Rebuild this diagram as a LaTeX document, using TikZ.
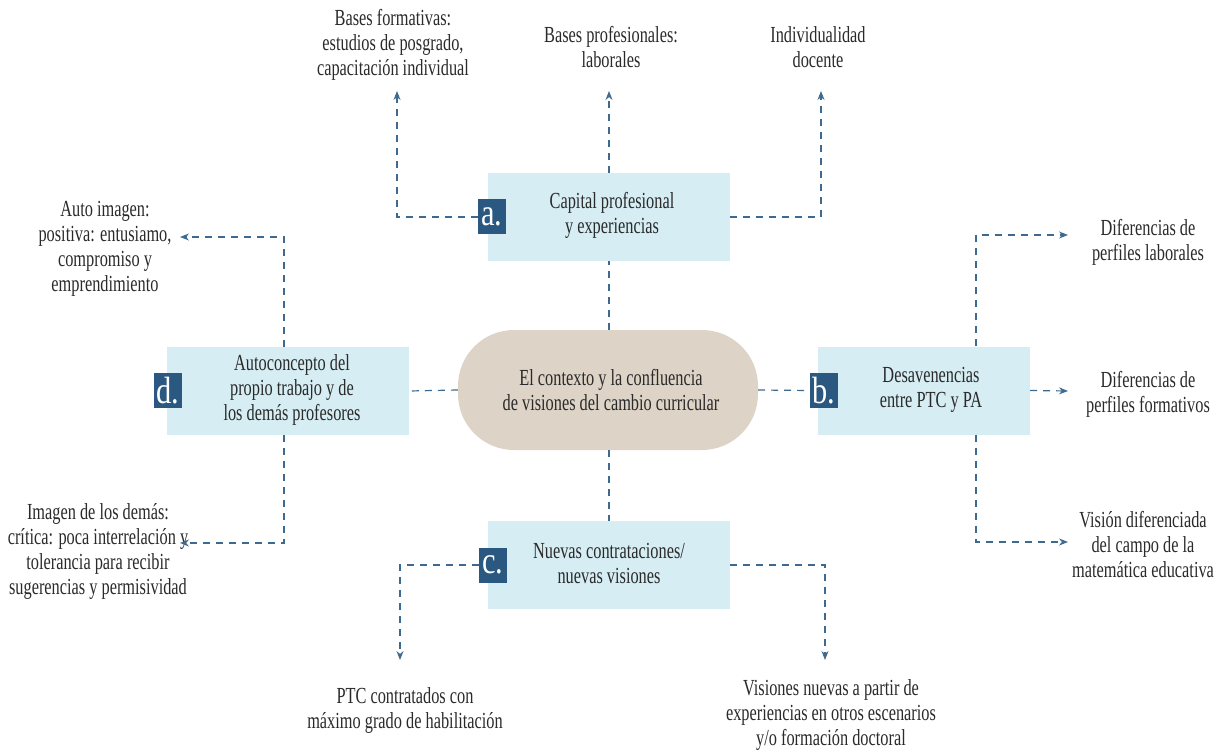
\documentclass[tikz,border=0pt]{standalone}
\usepackage{fontspec}
\setmainfont[FakeStretch=0.71]{Liberation Serif}
\newfontfamily\labfont[FakeStretch=0.8]{Liberation Serif}
\usetikzlibrary{arrows.meta}
\definecolor{boxblue}{HTML}{D5EDF3}
\definecolor{pillc}{HTML}{DDD3C6}
\definecolor{labc}{HTML}{2A5880}
\definecolor{linec}{HTML}{3D6A8E}
\definecolor{txt}{HTML}{2A2A2A}
\tikzset{
  box/.style={fill=boxblue, draw=none, minimum width=242pt, minimum height=88pt, inner sep=0pt},
  pill/.style={fill=pillc, draw=none, rounded corners=56pt, minimum width=300pt, minimum height=120pt, inner sep=0pt},
  lab/.style={fill=labc, text=white, minimum width=28pt, minimum height=35pt, inner sep=0pt, font=\labfont\fontsize{38}{38}\selectfont},
  txtnode/.style={align=center, text=txt, inner sep=0pt, font=\fontsize{23}{25}\selectfont},
  conn/.style={draw=linec, line width=1.2pt, dash pattern=on 7pt off 6pt},
  arr/.style={conn, -{Stealth[length=9pt,width=7pt]}}
}
\begin{document}
\begin{tikzpicture}[x=1pt,y=-1pt]
\useasboundingbox (0,0) rectangle (1226,751);
% main shapes
\node[pill] (p) at (608,390) {};
\node[txtnode] (pt) at (611,390) {El contexto y la confluencia\\de visiones del cambio curricular};
\node[box] (a) at (609,217) {};
\node[txtnode] (at) at (612,215) {Capital profesional\\y experiencias};
\node[box] (c) at (609,565) {};
\node[txtnode] (ct) at (609,563) {Nuevas contrataciones/\\nuevas visiones};
\node[box] (d) at (288,391) {};
\node[txtnode] (dt) at (292,390) {Autoconcepto del\\propio trabajo y de\\los demás profesores};
\node[box, minimum width=212pt] (b) at (924,390.5) {};
\node[txtnode] (bt) at (931,390) {Desavenencias\\entre PTC y PA};
% letter labels
\node[lab] (la) at (492,217) {a.};
\node[lab] (lb) at (823.5,390.5) {b.};
\node[lab] (lc) at (493,565) {c.};
\node[lab] (ld) at (167.5,390.5) {d.};
% outer texts
\node[txtnode] (tA1) at (393,45) {Bases formativas:\\estudios de posgrado,\\capacitación individual};
\node[txtnode] (tA2) at (611,47) {Bases profesionales:\\laborales};
\node[txtnode] (tA3) at (818,47) {Individualidad\\docente};
\node[txtnode] (tD1) at (105,249) {Auto imagen:\\positiva: entusiamo,\\compromiso y\\emprendimiento};
\node[txtnode] (tD2) at (98,551) {Imagen de los demás:\\crítica: poca interrelación y\\tolerancia para recibir\\sugerencias y permisividad};
\node[txtnode] (tB1) at (1148,242) {Diferencias de\\perfiles laborales};
\node[txtnode] (tB2) at (1148,394) {Diferencias de\\perfiles formativos};
\node[txtnode] (tB3) at (1143,545) {Visión diferenciada\\del campo de la\\matemática educativa};
\node[txtnode] (tC1) at (405,710) {PTC contratados con\\máximo grado de habilitación};
\node[txtnode] (tC2) at (831,715) {Visiones nuevas a partir de\\experiencias en otros escenarios\\y/o formación doctoral};
% arrow ends
\coordinate (e1) at (397,91);
\coordinate (e2) at (609,91);
\coordinate (e3) at (821,91);
\coordinate (e4) at (180,237);
\coordinate (e5) at (180,543);
\coordinate (e6) at (1068,235);
\coordinate (e7) at (1068,391);
\coordinate (e8) at (1068,542);
\coordinate (e9) at (400,660);
\coordinate (e10) at (825,660);
% center links
\draw[conn] (p.north -| a.south) -- (a.south);
\draw[conn] (p.south -| c.north) -- (c.north);
\draw[conn] (p.west) -- (d.east);
\draw[conn] (p.east) -- (lb.west);
% branches
\draw[arr] (la.west) -| (e1);
\draw[arr] (a.north) -- (e2);
\draw[arr] (a.east) -| (e3);
\draw[arr] ([xshift=-4pt]d.north) |- (e4);
\draw[arr] ([xshift=-4pt]d.south) |- (e5);
\draw[arr] ([xshift=52pt]b.north) |- (e6);
\draw[arr] (b.east) -- (e7);
\draw[arr] ([xshift=52pt]b.south) |- (e8);
\draw[arr] (lc.west) -| (e9);
\draw[arr] (c.east) -| (e10);
\end{tikzpicture}
\end{document}
